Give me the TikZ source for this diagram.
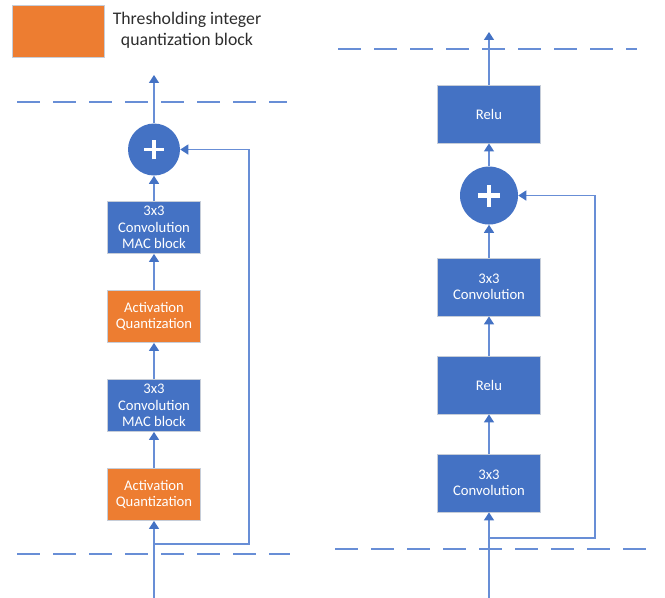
\documentclass[tikz,border=0pt]{standalone}
\usepackage{fontspec}
\setmainfont{Carlito}
\usetikzlibrary{arrows.meta,positioning}
\definecolor{blockblue}{RGB}{68,114,196}
\definecolor{quantorange}{RGB}{237,125,49}
\definecolor{wireblue}{RGB}{104,142,214}
\definecolor{rimgray}{RGB}{198,205,216}
\definecolor{legendtext}{RGB}{45,45,45}

\begin{document}
\begin{tikzpicture}[>={Triangle[width=7.5pt,length=6pt,color=blockblue]},
                    node distance=66.75pt]
  \tikzset{block/.style={draw=rimgray,line width=0.6pt,fill=blockblue,text=white,
             font=\fontsize{11}{12.4}\selectfont,align=center,inner sep=1pt},
           macblock/.style={block,minimum width=69.75pt,minimum height=39pt},
           quantblock/.style={macblock,fill=quantorange},
           convblock/.style={block,minimum width=77.25pt,minimum height=43.5pt},
           adder/.style={circle,fill=blockblue,minimum size=#1,inner sep=0pt,
             path picture={\draw[white,line width=0.07*#1]
               ([xshift=-0.19*#1]path picture bounding box.center) --
               ([xshift=0.19*#1]path picture bounding box.center)
               ([yshift=-0.19*#1]path picture bounding box.center) --
               ([yshift=0.19*#1]path picture bounding box.center);}},
           wire/.style={wireblue,line width=1pt},
           sep/.style={wireblue,line width=1.2pt,dash pattern=on 17pt off 10pt}}
  \useasboundingbox (0,0) rectangle (498.75pt,448.5pt);

  % legend
  \node[quantblock,minimum width=69pt] (KEY) at (43.5pt,425.25pt) {};
  \node[text=legendtext,align=center,font=\fontsize{13.3}{16}\selectfont]
       (KEYTXT) at (140.25pt,426pt) {Thresholding integer\\quantization block};

  % quantized residual block
  \node[quantblock] (AQ2) at (115.5pt,77.6pt) {Activation\\Quantization};
  \node[macblock]   (MAC2) [above of=AQ2] {3x3\\Convolution\\MAC block};
  \node[quantblock] (AQ1) [above of=MAC2] {Activation\\Quantization};
  \node[macblock]   (MAC1) [above of=AQ1] {3x3\\Convolution\\MAC block};
  \node[adder=39pt] (ADDL) [above of=MAC1, node distance=58.5pt] {};
  \coordinate (inL)   at (115.5pt,0pt);
  \coordinate (tapL)  at (115.5pt,40.5pt);
  \coordinate (turnL) at (186.75pt,40.5pt);
  \coordinate (outL)  at (115.5pt,392.25pt);

  % float residual block
  \node[convblock]    (CV2) at (366.75pt,86.25pt) {3x3\\Convolution};
  \node[convblock]    (RL2) [above of=CV2, node distance=73.5pt] {Relu};
  \node[convblock]    (CV1) [above of=RL2, node distance=73.5pt] {3x3\\Convolution};
  \node[adder=43.5pt] (ADDR) [above of=CV1, node distance=68.6pt] {};
  \node[convblock]    (RL1) [above of=ADDR, node distance=61.1pt] {Relu};
  \coordinate (inR)   at (366.75pt,0pt);
  \coordinate (tapR)  at (366.75pt,45pt);
  \coordinate (turnR) at (446.25pt,45pt);
  \coordinate (outR)  at (366.75pt,424.5pt);

  % block boundaries
  \draw[sep] (12.75pt,372pt) -- (215.25pt,372pt);
  \draw[sep] (12.75pt,33pt) -- (217.5pt,33pt);
  \draw[sep] (253.5pt,411.75pt) -- (477.75pt,411.75pt);
  \draw[sep] (251.25pt,36.75pt) -- (493.5pt,36.75pt);

  \path[wire] (inL)  edge[->] (AQ2)
              (AQ2)  edge[->] (MAC2)
              (MAC2) edge[->] (AQ1)
              (AQ1)  edge[->] (MAC1)
              (MAC1) edge[->] (ADDL)
              (ADDL) edge[->] (outL);
  \draw[wire,->] (tapL) -- (turnL) |- (ADDL);

  \path[wire] (inR)  edge[->] (CV2)
              (CV2)  edge[->] (RL2)
              (RL2)  edge[->] (CV1)
              (CV1)  edge[->] (ADDR)
              (ADDR) edge[->] (RL1)
              (RL1)  edge[->] (outR);
  \draw[wire,->] (tapR) -- (turnR) |- (ADDR);
\end{tikzpicture}
\end{document}
